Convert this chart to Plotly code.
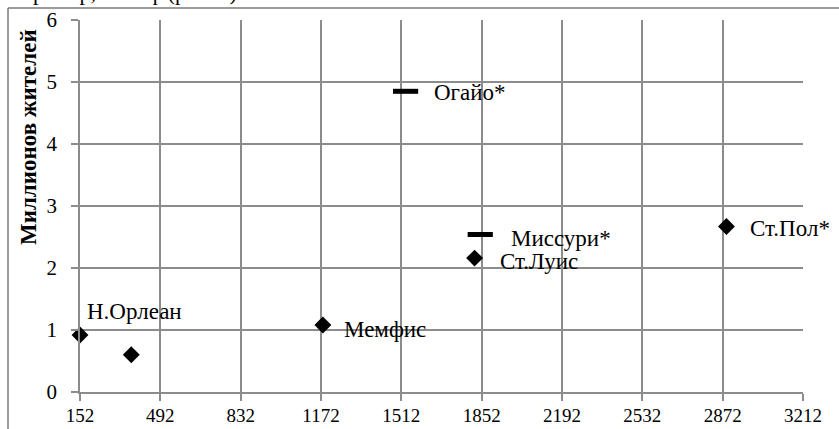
import plotly.graph_objects as go

# Population (millions) against the x-axis measure
city_names = ["Н.Орлеан", "", "Мемфис", "Ст.Луис", "Ст.Пол*"]
city_x = [152, 369, 1180, 1822, 2888]
city_y = [0.92, 0.60, 1.08, 2.16, 2.67]

state_names = ["Огайо*", "Миссури*"]
state_x = [1530, 1846]
state_y = [4.85, 2.54]

x_ticks = [152, 492, 832, 1172, 1512, 1852, 2192, 2532, 2872, 3212]
y_ticks = [0, 1, 2, 3, 4, 5, 6]

W, H = 839, 429
L, R, T, B = 80, 36, 20, 37
FONT = "Liberation Serif"


def px_x(p):
    return (p - L) / (W - L - R)


def px_y(p):
    return (H - B - p) / (H - T - B)


fig = go.Figure()

fig.add_trace(go.Scatter(
    x=city_x, y=city_y, mode="markers",
    marker=dict(symbol="diamond", size=13, color="black"),
    cliponaxis=False, showlegend=False, hoverinfo="skip",
))
fig.add_trace(go.Scatter(
    x=state_x, y=state_y, mode="markers",
    marker=dict(symbol="line-ew", size=18, color="black",
                line=dict(color="black", width=5)),
    cliponaxis=False, showlegend=False, hoverinfo="skip",
))

annotations = []
# label offsets in pixels relative to each marker
city_offsets = [(6, 23), (0, 0), (20, -4), (24, -3), (23, -2)]
for name, x, y, (dx, dy) in zip(city_names, city_x, city_y, city_offsets):
    if not name:
        continue
    annotations.append(dict(
        x=x, y=y, xref="x", yref="y", text=name, showarrow=False,
        xanchor="left", yanchor="middle", xshift=dx, yshift=dy,
        borderpad=0, font=dict(family=FONT, size=23, color="black"),
    ))
state_offsets = [(27, -1), (30, -4)]
for name, x, y, (dx, dy) in zip(state_names, state_x, state_y, state_offsets):
    annotations.append(dict(
        x=x, y=y, xref="x", yref="y", text=name, showarrow=False,
        xanchor="left", yanchor="middle", xshift=dx, yshift=dy,
        borderpad=0, font=dict(family=FONT, size=23, color="black"),
    ))

# axis title
annotations.append(dict(
    x=px_x(28), y=px_y(137), xref="paper", yref="paper",
    text="<b>Миллионов жителей</b>", textangle=-90, showarrow=False,
    xanchor="center", yanchor="middle",
    font=dict(family=FONT, size=23, color="black"),
))
# tail of the preceding paragraph
annotations.append(dict(
    x=px_x(-2), y=px_y(7), xref="paper", yref="paper",
    text="например, Вольф (рис. 4).", showarrow=False,
    xanchor="left", yanchor="bottom",
    font=dict(family=FONT, size=22, color="black"),
))

shapes = [
    dict(type="line", xref="paper", yref="paper",
         x0=px_x(8), x1=px_x(W + 5), y0=px_y(8), y1=px_y(8),
         line=dict(color="#7a7a7a", width=1.5)),
    dict(type="line", xref="paper", yref="paper",
         x0=px_x(8), x1=px_x(8), y0=px_y(8), y1=px_y(H + 5),
         line=dict(color="#7a7a7a", width=1.5)),
]

grid = "#8c8c8c"
fig.update_layout(
    width=W, height=H,
    margin=dict(l=L, r=R, t=T, b=B, autoexpand=False),
    paper_bgcolor="white", plot_bgcolor="white",
    annotations=annotations, shapes=shapes,
    xaxis=dict(
        range=[152, 3212], tickvals=x_ticks, ticktext=[str(v) for v in x_ticks],
        showgrid=True, gridcolor=grid, gridwidth=1.5,
        showline=True, linecolor=grid, linewidth=1.5,
        ticks="outside", ticklen=7, tickcolor=grid, tickwidth=1.5,
        ticklabelstandoff=-2, automargin=False,
        tickfont=dict(family=FONT, size=19, color="black"),
        zeroline=False, fixedrange=True,
    ),
    yaxis=dict(
        range=[0, 6], tickvals=y_ticks,
        showgrid=True, gridcolor=grid, gridwidth=1.5,
        showline=True, linecolor=grid, linewidth=1.5,
        ticks="outside", ticklen=7, tickcolor=grid, tickwidth=1.5,
        ticklabelstandoff=10, automargin=False,
        tickfont=dict(family=FONT, size=21, color="black"),
        zeroline=False, fixedrange=True,
    ),
)

fig.write_html("out.html")
